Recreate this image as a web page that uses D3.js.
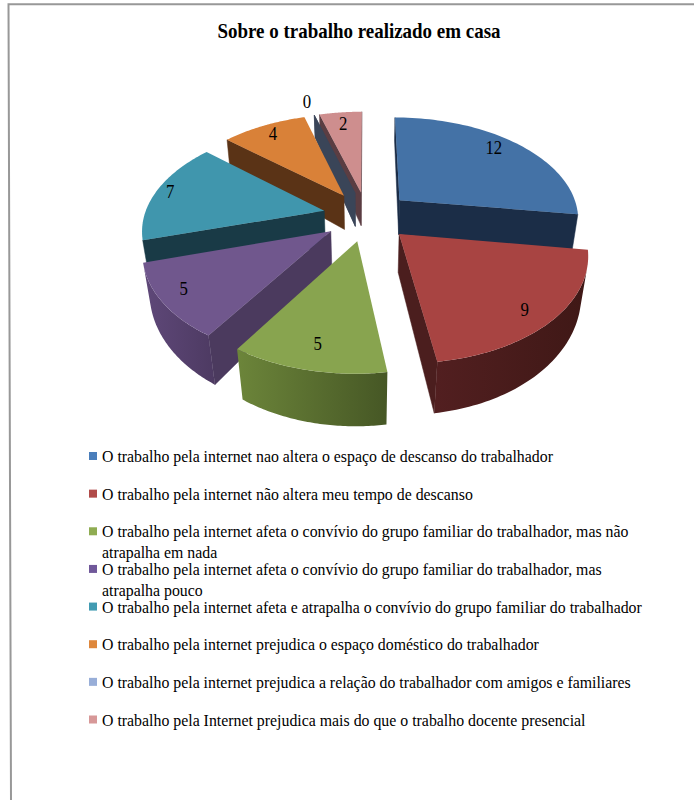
<!DOCTYPE html>
<html>
<head>
<meta charset="utf-8">
<script src="https://cdn.jsdelivr.net/npm/d3@7"></script>
<style>
  html, body { margin: 0; background: #fff; }
  text { font-family: "Liberation Serif", serif; fill: #000; }
</style>
</head>
<body>
<svg id="chart" width="694" height="800"></svg>
<script>
// Survey answers, one entry per pie slice
const chartTitle = "Sobre o trabalho realizado em casa";
const categories = [
  "O trabalho pela internet nao altera o espaço de descanso do trabalhador",
  "O trabalho pela internet não altera meu tempo de descanso",
  "O trabalho pela internet afeta o convívio do grupo familiar do trabalhador, mas não|atrapalha em nada",
  "O trabalho pela internet afeta o convívio do grupo familiar do trabalhador, mas|atrapalha pouco",
  "O trabalho pela internet afeta e atrapalha o convívio do grupo familiar do trabalhador",
  "O trabalho pela internet prejudica o espaço doméstico do trabalhador",
  "O trabalho pela internet prejudica a relação do trabalhador com amigos e familiares",
  "O trabalho pela Internet prejudica mais do que o trabalho docente presencial"
];
const values = [12, 9, 5, 5, 7, 4, 0, 2];
const topColors = ["#4472a6", "#a84442", "#88a44f", "#70578d", "#4096ad", "#d98138", "#95add6", "#ce8e8e"];
const swatchColors = ["#4a7ebb", "#b14b49", "#8fac52", "#70589a", "#429bb2", "#de873c", "#98aed8", "#d79898"];
const radialWall = ["#1b2d47", "#4b1e1e", "#56692f", "#4b3a5e", "#193a46", "#5a3316", "#3a4558", "#5b3d42"];
const rimLight = ["#2b4566", "#521f20", "#6c853a", "#5f4879", "#255060", "#6e3f1b", "#3a4558", "#5b3d42"];
const rimDark = ["#1b2d47", "#3f1816", "#465725", "#4d3a62", "#193a46", "#5a3316", "#3a4558", "#5b3d42"];

// Label placement on each slice: distance from the slice tip and turn from its middle
const labelReach = [0.86, 0.86, 0.82, 0.87, 0.92, 0.87, 1.21, 0.85];
const labelTurn = [-4, 2, 0, 2, 0, 0, 0, 0];

// Camera model of the tilted, exploded pie
const radius = 1, thickness = 0.25, explode = 0.245;
const tilt = 34.2 * Math.PI / 180, camDist = 5, focal = 180 * camDist;
const wallFlare = 0.27;
const cx = 367, cy = 216;

const project = (X, Y, Z) => {
  const zScaled = Z * (1 - wallFlare * Y);
  const yc = Y * Math.sin(tilt) + zScaled * Math.cos(tilt);
  const zc = Y * Math.cos(tilt) - zScaled * Math.sin(tilt);
  const s = focal / (camDist + zc);
  return [cx + X * s, cy - yc * s];
};

const arcs = d3.pie().value(d => d).sort(null)(values);
const svg = d3.select("#chart");
const lineGen = d3.line();

// Frame around the chart: left and top edges only
svg.append("path")
  .attr("d", "M11,800L8.5,4.3H694")
  .attr("fill", "none").attr("stroke", "#989898").attr("stroke-width", 2);

// Title
svg.append("text").attr("x", 359).attr("y", 38).attr("text-anchor", "middle")
  .attr("font-size", 22).attr("font-weight", "bold")
  .attr("textLength", 283).attr("lengthAdjust", "spacingAndGlyphs")
  .text(chartTitle);

const defs = svg.append("defs");
const pieLayer = svg.append("g");

const slices = arcs.map((a, i) => {
  const mid = (a.startAngle + a.endAngle) / 2;
  const ox = explode * Math.sin(mid), oy = explode * Math.cos(mid);
  const pt = (ang, r, z) => project(ox + r * Math.sin(ang), oy + r * Math.cos(ang), z);
  return { a, i, mid, ox, oy, pt };
});

// Paint back to front so nearer slices cover farther ones
const order = slices.slice().sort((p, q) => (q.oy + 0.6 * Math.cos(q.mid)) - (p.oy + 0.6 * Math.cos(p.mid)));

order.forEach(({ a, i, pt }) => {
  const g = pieLayer.append("g");
  const h = -thickness;
  const steps = d3.range(0, 61).map(k => a.startAngle + (a.endAngle - a.startAngle) * k / 60);

  // Radial walls, drawn only when they face the camera
  [[a.startAngle, 1], [a.endAngle, -1]].forEach(([ang, dir]) => {
    const quad = [pt(ang, 0, 0), pt(ang, radius, 0), pt(ang, radius, h), pt(ang, 0, h)];
    if (d3.polygonArea(quad) * dir > 0 || a.endAngle === a.startAngle) {
      g.append("path").attr("d", lineGen(quad) + "Z")
        .attr("fill", radialWall[i]).attr("stroke", radialWall[i]).attr("stroke-width", 0.5);
    }
  });

  // Outer rim as one band with a left-to-right shade
  if (a.endAngle > a.startAngle) {
    const facing = steps.filter((s, k) => {
      if (k === steps.length - 1) return true;
      const next = steps[k + 1];
      return d3.polygonArea([pt(s, radius, 0), pt(next, radius, 0), pt(next, radius, h), pt(s, radius, h)]) > 0;
    });
    if (facing.length > 1) {
      const upper = facing.map(s => pt(s, radius, 0));
      const lower = facing.map(s => pt(s, radius, h)).reverse();
      const band = upper.concat(lower);
      const [x0, x1] = d3.extent(band, p => p[0]);
      const id = "rim" + i;
      const grad = defs.append("linearGradient").attr("id", id)
        .attr("gradientUnits", "userSpaceOnUse")
        .attr("x1", x0).attr("x2", x1).attr("y1", 0).attr("y2", 0);
      grad.append("stop").attr("offset", 0).attr("stop-color", rimLight[i]);
      grad.append("stop").attr("offset", 1).attr("stop-color", rimDark[i]);
      g.append("path").attr("d", lineGen(band) + "Z").attr("fill", `url(#${id})`);
    }
  }

  // Top face
  const top = [pt(a.startAngle, 0, 0), ...steps.map(s => pt(s, radius, 0))];
  g.append("path").attr("d", lineGen(top) + "Z").attr("fill", topColors[i]);
});

// Data labels
slices.forEach(({ i, mid, pt }) => {
  const p = pt(mid + labelTurn[i] * Math.PI / 180, labelReach[i], 0);
  svg.append("text").attr("x", p[0]).attr("y", p[1] + 6.5).attr("text-anchor", "middle")
    .attr("font-size", 19)
    .attr("textLength", 8.4 * String(values[i]).length).attr("lengthAdjust", "spacingAndGlyphs")
    .text(values[i]);
});

// Legend
const legendY = d3.scalePoint().domain(d3.range(categories.length)).range([456, 719.5]);
categories.forEach((label, i) => {
  const y = legendY(i);
  svg.append("rect").attr("x", 89).attr("y", y - 4).attr("width", 8).attr("height", 8).attr("fill", swatchColors[i]);
  label.split("|").forEach((line, k) => {
    const t = svg.append("text").attr("x", 102).attr("y", y + 6 + k * 21).attr("font-size", 17).text(line);
    t.attr("textLength", t.node().getComputedTextLength() * 0.932).attr("lengthAdjust", "spacingAndGlyphs");
  });
});
</script>
</body>
</html>
